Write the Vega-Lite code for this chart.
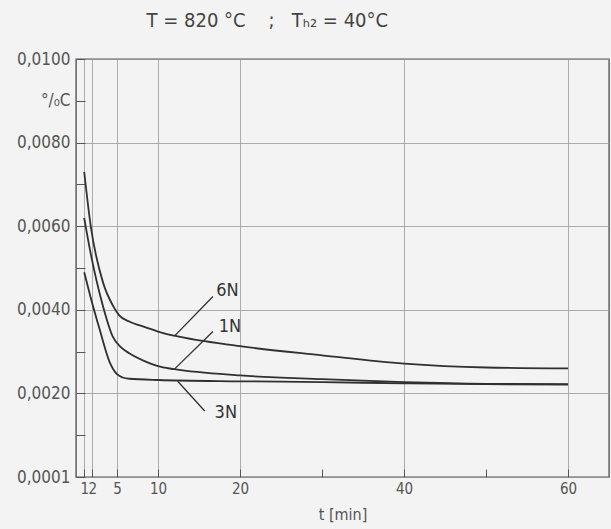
{
  "$schema": "https://vega.github.io/schema/vega-lite/v6.json",
  "autosize": {"type": "none"},
  "width": 533,
  "height": 418,
  "padding": {"left": 76, "top": 59, "right": 2, "bottom": 52},
  "background": "#f3f3f3",
  "title": {
    "text": "T = 820 °C\u00a0\u00a0\u00a0\u00a0;\u00a0\u00a0\u00a0Tₕ₂ = 40°C",
    "anchor": "start",
    "offset": 19,
    "dx": 130,
    "fontSize": 20,
    "fontWeight": "normal",
    "font": "DejaVu Sans Condensed",
    "color": "#444"
  },
  "config": {
    "view": {"stroke": "#555", "strokeWidth": 1.4},
    "axis": {
      "labelFont": "DejaVu Sans Condensed",
      "titleFont": "DejaVu Sans Condensed",
      "labelColor": "#555",
      "titleColor": "#555",
      "labelFontSize": 17,
      "titleFontSize": 16,
      "titleFontWeight": "normal",
      "labelOverlap": false,
      "labelBound": false,
      "domain": false
    }
  },
  "datasets": {
    "curves": [
      {"series": "6N", "t": 1, "v": 0.0073},
      {"series": "6N", "t": 1.8, "v": 0.0060},
      {"series": "6N", "t": 3.3, "v": 0.00465},
      {"series": "6N", "t": 4.5, "v": 0.0041},
      {"series": "6N", "t": 5.3, "v": 0.00386},
      {"series": "6N", "t": 6.5, "v": 0.00372},
      {"series": "6N", "t": 8.5, "v": 0.00358},
      {"series": "6N", "t": 10, "v": 0.00348},
      {"series": "6N", "t": 12, "v": 0.00338},
      {"series": "6N", "t": 20, "v": 0.00313},
      {"series": "6N", "t": 30, "v": 0.00291},
      {"series": "6N", "t": 40, "v": 0.00271},
      {"series": "6N", "t": 50, "v": 0.00262},
      {"series": "6N", "t": 60, "v": 0.0026},
      {"series": "1N", "t": 1, "v": 0.0062},
      {"series": "1N", "t": 1.7, "v": 0.00544},
      {"series": "1N", "t": 3.3, "v": 0.00408},
      {"series": "1N", "t": 4.5, "v": 0.00335},
      {"series": "1N", "t": 5.5, "v": 0.0031},
      {"series": "1N", "t": 6.5, "v": 0.00296},
      {"series": "1N", "t": 8.5, "v": 0.00276},
      {"series": "1N", "t": 10, "v": 0.00265},
      {"series": "1N", "t": 12, "v": 0.00258},
      {"series": "1N", "t": 20, "v": 0.00243},
      {"series": "1N", "t": 30, "v": 0.00234},
      {"series": "1N", "t": 40, "v": 0.00227},
      {"series": "1N", "t": 50, "v": 0.00223},
      {"series": "1N", "t": 60, "v": 0.00222},
      {"series": "3N", "t": 1, "v": 0.0049},
      {"series": "3N", "t": 1.7, "v": 0.00436},
      {"series": "3N", "t": 2.9, "v": 0.00352},
      {"series": "3N", "t": 4.1, "v": 0.00275},
      {"series": "3N", "t": 5, "v": 0.00246},
      {"series": "3N", "t": 5.7, "v": 0.00238},
      {"series": "3N", "t": 6.5, "v": 0.00235},
      {"series": "3N", "t": 10, "v": 0.00232},
      {"series": "3N", "t": 20, "v": 0.00229},
      {"series": "3N", "t": 30, "v": 0.00227},
      {"series": "3N", "t": 40, "v": 0.00224},
      {"series": "3N", "t": 50, "v": 0.00222},
      {"series": "3N", "t": 60, "v": 0.00221}
    ],
    "labels": [
      {"name": "6N", "t0": 12, "v0": 0.00337, "t1": 16.7, "v1": 0.00432, "tt": 17.1, "vt": 0.00444},
      {"name": "1N", "t0": 12, "v0": 0.00258, "t1": 16.7, "v1": 0.00348, "tt": 17.4, "vt": 0.0036},
      {"name": "3N", "t0": 12.4, "v0": 0.00229, "t1": 15.7, "v1": 0.00158, "tt": 16.9, "vt": 0.00153}
    ]
  },
  "layer": [
    {
      "data": {"name": "curves"},
      "mark": {"type": "line", "interpolate": "monotone", "color": "#303030", "strokeWidth": 1.8},
      "encoding": {
        "x": {
          "field": "t",
          "type": "quantitative",
          "scale": {"domain": [0, 65], "nice": false, "zero": false},
          "axis": {
            "values": [1, 2, 5, 10, 20, 30, 40, 50, 60],
            "grid": true,
            "gridColor": {"condition": {"test": "datum.value == 30 || datum.value == 50", "value": "transparent"}, "value": "#9a9a9a"},
            "gridWidth": 0.8,
            "tickSize": -8,
            "tickColor": "#555",
            "labelExpr": "datum.value == 30 || datum.value == 50 ? '' : datum.label",
            "labelFontSize": 15,
            "labelPadding": 12,
            "title": "t [min]",
            "titlePadding": 10
          }
        },
        "y": {
          "field": "v",
          "type": "quantitative",
          "scale": {"domain": [0, 0.01], "nice": false, "zero": false},
          "axis": {
            "values": [0, 0.001, 0.002, 0.003, 0.004, 0.005, 0.006, 0.007, 0.008, 0.009, 0.01],
            "grid": true,
            "gridColor": {"condition": {"test": "round(datum.value*1000) % 2 == 1", "value": "transparent"}, "value": "#9a9a9a"},
            "gridWidth": 0.8,
            "tickSize": -9,
            "tickColor": "#555",
            "labelExpr": "round(datum.value*1000) == 9 ? '°/₀C' : (round(datum.value*1000) % 2 == 1 ? '' : (datum.value == 0 ? '0,0001' : replace(format(datum.value, '.4f'), '.', ',')))",
            "labelPadding": 15,
            "title": null
          }
        },
        "detail": {"field": "series"}
      }
    },
    {
      "data": {"name": "labels"},
      "mark": {"type": "rule", "color": "#303030", "strokeWidth": 1.3},
      "encoding": {
        "x": {"field": "t0", "type": "quantitative"},
        "y": {"field": "v0", "type": "quantitative"},
        "x2": {"field": "t1"},
        "y2": {"field": "v1"}
      }
    },
    {
      "data": {"name": "labels"},
      "mark": {"type": "text", "align": "left", "baseline": "middle", "font": "DejaVu Sans Condensed", "fontSize": 18, "color": "#333"},
      "encoding": {
        "x": {"field": "tt", "type": "quantitative"},
        "y": {"field": "vt", "type": "quantitative"},
        "text": {"field": "name"}
      }
    }
  ]
}
